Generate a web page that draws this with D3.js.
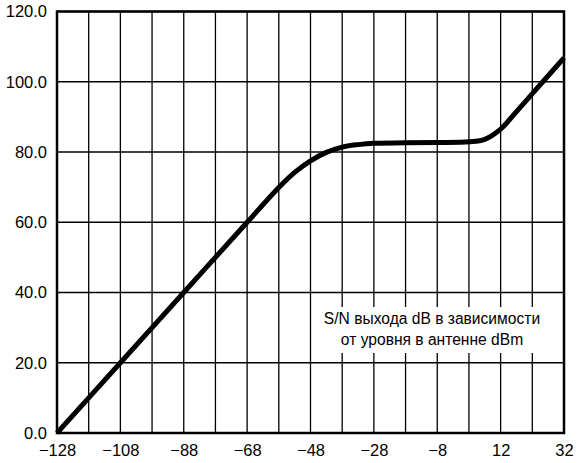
<!DOCTYPE html>
<html>
<head>
<meta charset="utf-8">
<script src="https://cdn.jsdelivr.net/npm/d3@7"></script>
<style>
  body { margin: 0; background: #fff; }
  text { font-family: "Liberation Sans", Arial, sans-serif; }
</style>
</head>
<body>
<div id="chart"></div>
<script>
// data
const xValues = [-128, -108, -88, -68, -58, -53, -48, -43, -38, -33, -28, -18, -8, 2, 7, 12, 17, 22, 27, 32];
const yValues = [0, 20, 40, 60, 69.9, 74.2, 77.5, 79.9, 81.4, 82.1, 82.5, 82.6, 82.7, 82.9, 83.6, 86.5, 91.5, 96.6, 101.7, 106.8];
const xTicks = [-128, -108, -88, -68, -48, -28, -8, 12, 32];
const xGrid = d3.range(-128, 33, 10);
const yTicks = [0, 20, 40, 60, 80, 100, 120];
const noteLines = ["S/N выхода dB в зависимости", "от уровня в антенне dBm"];

const w = 581, h = 463;
const padLeft = 57, padRight = 564, padTop = 11.5, padBottom = 433;

const svg = d3.select("#chart").append("svg")
    .attr("width", w)
    .attr("height", h);

const xScale = d3.scaleLinear().domain([-128, 32]).range([padLeft, padRight]);
const yScale = d3.scaleLinear().domain([0, 120]).range([padBottom, padTop]);

//vertical grid
svg.append("g").selectAll("line")
    .data(xGrid)
    .enter().append("line")
    .attr("x1", d => xScale(d)).attr("x2", d => xScale(d))
    .attr("y1", padTop).attr("y2", padBottom)
    .attr("stroke", "#000").attr("stroke-width", 1.3);

//horizontal grid
svg.append("g").selectAll("line")
    .data(yTicks)
    .enter().append("line")
    .attr("x1", padLeft).attr("x2", padRight)
    .attr("y1", d => yScale(d)).attr("y2", d => yScale(d))
    .attr("stroke", "#000").attr("stroke-width", 1.3);

// note box (covers grid)
const boxX = xScale(-47.5), boxW = xScale(31.5) - boxX;
svg.append("rect")
    .attr("x", boxX).attr("y", 307)
    .attr("width", boxW).attr("height", 46)
    .attr("fill", "#fff");

svg.append("g").selectAll("text")
    .data(noteLines)
    .enter().append("text")
    .attr("x", 432)
    .attr("y", (d, i) => 323.5 + i * 21)
    .attr("text-anchor", "middle")
    .style("font-size", "15.6px")
    .attr("fill", "#000")
    .text(d => d);

// frame
svg.append("rect")
    .attr("x", padLeft).attr("y", padTop)
    .attr("width", padRight - padLeft).attr("height", padBottom - padTop)
    .attr("fill", "none").attr("stroke", "#000").attr("stroke-width", 2.5);

// curve
const pts = xValues.map((x, i) => [x, yValues[i]]);
const line = d3.line()
    .x(d => xScale(d[0]))
    .y(d => yScale(d[1]))
    .curve(d3.curveCatmullRom.alpha(0.5));

svg.append("path")
    .datum(pts)
    .attr("d", line)
    .attr("fill", "none")
    .attr("stroke", "#000")
    .attr("stroke-width", 5)
    .attr("stroke-linejoin", "round");

// axes (labels only)
const xAxis = d3.axisBottom(xScale)
    .tickValues(xTicks)
    .tickSize(0)
    .tickPadding(0)
    .tickFormat(d => d < 0 ? "\u2212" + Math.abs(d) : d);

const gx = svg.append("g")
    .attr("transform", "translate(0," + padBottom + ")")
    .call(xAxis);
gx.select(".domain").remove();
gx.selectAll("text")
    .attr("dy", null)
    .attr("y", 23)
    .style("font-size", "16.5px")
    .style("font-family", "'Liberation Sans', Arial, sans-serif")
    .attr("fill", "#000");

const yAxis = d3.axisLeft(yScale)
    .tickValues(yTicks)
    .tickSize(0)
    .tickPadding(10)
    .tickFormat(d3.format(".1f"));

const gy = svg.append("g")
    .attr("transform", "translate(" + padLeft + ",0)")
    .call(yAxis);
gy.select(".domain").remove();
gy.selectAll("text")
    .style("font-size", "16.5px")
    .style("font-family", "'Liberation Sans', Arial, sans-serif")
    .attr("fill", "#000");
</script>
</body>
</html>
